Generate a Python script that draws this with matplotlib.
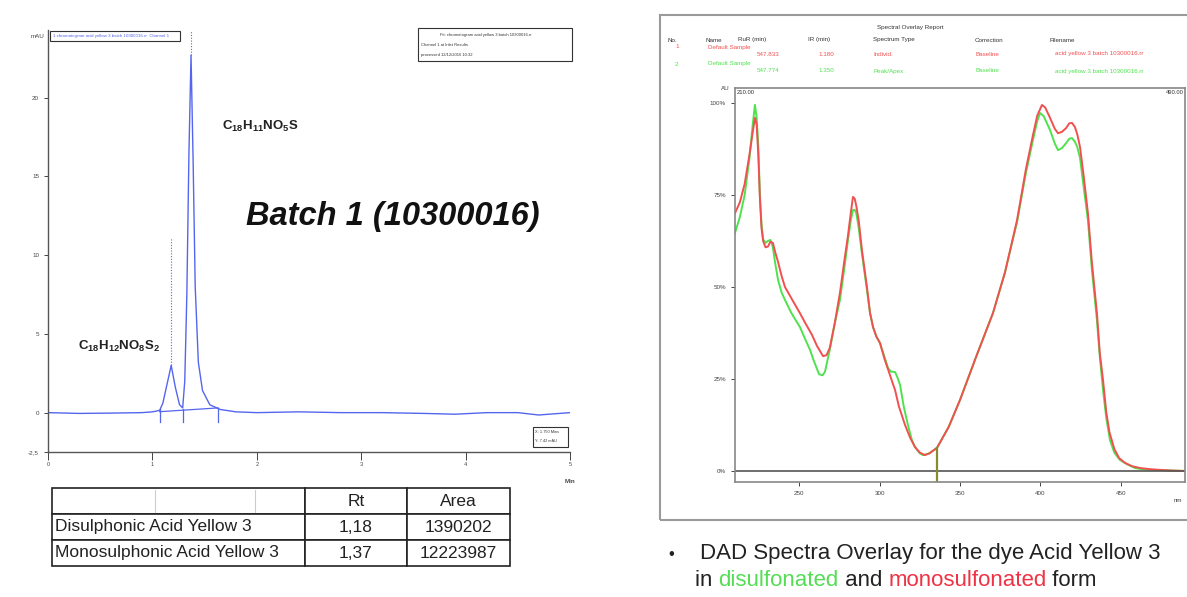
#!/usr/bin/env python3
# -*- coding: utf-8 -*-

import matplotlib
matplotlib.use('Agg')
import matplotlib.pyplot as plt
from matplotlib.patches import Rectangle

plt.rcParams['font.family'] = ['Liberation Sans', 'DejaVu Sans']
plt.rcParams['mathtext.fontset'] = 'custom'
plt.rcParams['mathtext.bf'] = 'Liberation Sans:bold'
plt.rcParams['mathtext.rm'] = 'Liberation Sans'

W, H = 1187, 597

#### chromatogram (time in min, signal in mAU)
chromTime = [0.0, 0.3, 0.6, 0.9, 1.0, 1.04, 1.07, 1.10, 1.14, 1.18, 1.22, 1.26, 1.29,
             1.31, 1.33, 1.35, 1.37, 1.39, 1.41, 1.44, 1.48, 1.55, 1.65, 1.8, 2.0,
             2.4, 2.8, 3.2, 3.6, 3.9, 4.2, 4.5, 4.7, 5.0]
chromSignal = [0.0, -0.05, -0.03, 0.0, 0.05, 0.1, 0.15, 0.6, 1.8, 3.0, 1.6, 0.5, 0.3,
               2.0, 7.5, 16.5, 22.7, 16.0, 8.0, 3.2, 1.4, 0.5, 0.2, 0.05, 0.0,
               0.05, 0.0, 0.0, -0.05, -0.1, 0.0, 0.0, -0.15, 0.0]
peakRt = [1.18, 1.37]
peakTop = [3.0, 22.7]
peakMark = [11.1, 24.3]
intStart, intEnd = (1.07, 0.06), (1.63, 0.3)
dropTimes = [1.07, 1.29, 1.63]
chromYTicks = [-2.5, 0, 5, 10, 15, 20]
chromYLabels = ['-2,5', '0', '5', '10', '15', '20']
chromXTicks = [0, 1, 2, 3, 4, 5]

#### DAD spectra (nm, % AU)
wlRed = [210, 213, 216, 219, 221, 222.4, 223.5, 224.5, 225.5, 226.5, 227.5, 229, 230.5,
         232, 233.6, 235, 236.8, 239, 241.1, 245, 250.4, 254, 257.9, 261, 264.8, 267,
         269, 272, 275.3, 278, 280.3, 282, 283.4, 284.5, 285.5, 287, 289, 292.1, 294,
         295.9, 298, 300.2, 303, 306.4, 308, 309.6, 312, 315.8, 319, 322, 325, 328.2,
         331, 335.7, 343, 350, 360, 370.5, 378, 385.5, 391, 395.4, 398, 401, 403, 406,
         409, 411, 413.5, 416, 418, 419.7, 421.5, 423, 424.7, 427, 429.6, 432, 435.2,
         437, 439, 441, 443, 446, 449, 452.7, 457, 462, 468, 474.4, 482, 490]
absRed = [70.1, 73, 78, 86, 92, 96, 94, 86, 74, 66, 62.5, 60.8, 61,
          62.3, 62, 59.5, 56.8, 53, 50, 47, 42.9, 40, 37, 34, 31.2, 31.5,
          33.5, 40, 48.4, 57, 64, 70, 74.5, 74, 72, 68, 60, 50, 43,
          39.1, 36.5, 34.8, 30.5, 26.1, 24, 22, 17.5, 12.5, 9, 6.5, 5, 4.3,
          4.8, 6.3, 12, 19.3, 31, 42.9, 54, 68.2, 82, 91.3, 96.5, 99.5, 98.8, 96,
          93, 91.8, 92.2, 93.2, 94.5, 94.6, 93.5, 91.5, 88, 80, 70.1, 57, 42.9,
          32, 24.7, 16, 10.5, 6, 3.5, 2.2, 1.3, 0.8, 0.5, 0.3, 0.1, 0]
wlGreen = [210, 213, 216, 219, 221, 222.4, 223.5, 224.5, 225.5, 226.5, 227.5, 229, 230.5,
           232, 233.5, 235, 236.8, 239, 241.1, 245, 250.4, 254, 256.7, 259, 262.3, 264.5,
           266, 269, 272, 275.3, 278, 280.3, 282, 283.4, 284.5, 285.5, 287, 289, 292.1,
           294, 295.9, 298, 300.2, 303, 305.2, 307, 309.6, 311, 312.7, 315, 317.6, 320,
           322, 325, 327, 331, 335.7, 343, 350, 360, 370.5, 378, 385.5, 391, 395.4, 398,
           399.8, 402, 406, 409, 411, 413.5, 416, 418, 419.7, 421.5, 423, 424.7, 427,
           429.6, 432, 435.2, 437, 439, 441, 443.3, 446, 449.5, 454, 458.9, 463, 468.2, 490]
absGreen = [64.7, 69, 75, 85, 94, 99.5, 96, 88, 75, 67, 63, 62, 62.5,
            62.8, 61, 56.5, 51.9, 48.5, 46.5, 43, 39.1, 35.5, 32.9, 30, 26.3, 26,
            27, 33, 40, 46.5, 55, 62.8, 68, 70.9, 71, 70, 66, 59, 49.2,
            43, 39.1, 36.5, 34.8, 31, 28, 27, 26.9, 25.5, 23.4, 17.5, 12.5, 8.5,
            6.5, 4.8, 4.3, 4.8, 6.3, 12, 19.3, 31, 42.9, 54, 67.7, 81, 90, 95,
            97.3, 96.5, 92.7, 89, 87.2, 87.8, 89.1, 90.3, 90.5, 89.5, 88, 85, 77,
            68.2, 55, 41, 31, 22, 14.5, 8.4, 5, 3, 1.8, 0.8, 0.5, 0.3, 0]
cursorNm = 335.7
specXTicks = [250, 300, 350, 400, 450]
specYTicks = [0, 25, 50, 75, 100]
specYLabels = ['0%', '25%', '50%', '75%', '100%']

#### table
tableCols = ['', 'Rt', 'Area']
tableRows = [['Disulphonic Acid Yellow 3', '1,18', '1390202'],
             ['Monosulphonic Acid Yellow 3', '1,37', '12223987']]

#### spectral report header
hdrNames = ['No.', 'Name', 'RuR (min)', 'IR (min)', 'Spectrum Type', 'Correction', 'Filename']
row1 = ['1', 'Default Sample', '547.833', '1.180', 'Individ.', 'Baseline', 'acid yellow 3 batch 10300016.rr']
row2 = ['2', 'Default Sample', '547.774', '1.350', 'Peak/Apex', 'Baseline', 'acid yellow 3 batch 10300016.rr']

RED = '#f25050'
GREEN = '#4ee24e'
BLUE = '#5566ee'


def fx(px):
	return px / W


def fy(py):
	return 1 - py / H


def box(x0, y0, x1, y1, lw=0.8):
	fig.patches.append(Rectangle((fx(x0), fy(y1)), (x1 - x0) / W, (y1 - y0) / H,
								 transform=fig.transFigure, fill=True, fc='white', ec='#333', lw=lw, zorder=5))


fig = plt.figure(figsize=(W / 100, H / 100), dpi=100)
fig.patch.set_facecolor('white')

##### Left: chromatogram
ax1 = fig.add_axes([fx(48), fy(452), 522 / W, 422 / H])
ax1.plot(chromTime, chromSignal, color=BLUE, lw=1.0)
ax1.plot([intStart[0], intEnd[0]], [intStart[1], intEnd[1]], color=BLUE, lw=0.9)
for t in dropTimes:
	ax1.plot([t, t], [0.2, -0.6], color=BLUE, lw=0.9)
for rt, top, mark in zip(peakRt, peakTop, peakMark):
	ax1.plot([rt, rt], [top, mark], color=BLUE, lw=0.8, ls=(0, (1, 1.5)))
ax1.set_xlim(0, 5)
ax1.set_ylim(-2.5, 24.3)
ax1.set_xticks(chromXTicks)
ax1.set_xticklabels([str(v) for v in chromXTicks])
ax1.set_yticks(chromYTicks)
ax1.set_yticklabels(chromYLabels)
ax1.tick_params(axis='y', labelsize=4.5, length=3, width=0.7, colors='#444')
ax1.tick_params(axis='x', labelsize=4, length=6, width=0.7, colors='#444', pad=1)
for s in ['top', 'right']:
	ax1.spines[s].set_visible(False)
for s in ['left', 'bottom']:
	ax1.spines[s].set_color('#555')
	ax1.spines[s].set_linewidth(1.0)
ax1.text(-0.006, 0.985, 'mAU', transform=ax1.transAxes, ha='right', va='center', fontsize=4.5, color='#444')
ax1.text(1.0, -0.07, 'Min', transform=ax1.transAxes, ha='center', va='center', fontsize=4.5,
		 color='#444', fontweight='bold')

# small boxes of the chromatography software
box(50, 31, 180, 41)
fig.text(fx(53), fy(36), '1 chromatogram acid yellow 3 batch 10300016.rr  Channel 1', fontsize=3.2,
		 ha='left', va='center', color=BLUE, zorder=6)
box(418, 28, 572, 61)
fig.text(fx(440), fy(35), 'Fit: chromatogram acid yellow 3 batch 10300016.rr', fontsize=3.0,
		 ha='left', va='center', color='#333', zorder=6)
fig.text(fx(421), fy(45), 'Channel 1 at Inlet Results', fontsize=3.0, ha='left', va='center', color='#333', zorder=6)
fig.text(fx(421), fy(55), 'processed 12/12/2016 10:32', fontsize=3.0, ha='left', va='center', color='#333', zorder=6)
box(533, 427, 568, 447)
fig.text(fx(535), fy(432), 'X: 1.750 Mins', fontsize=2.8, ha='left', va='center', color='#333', zorder=6)
fig.text(fx(535), fy(441), 'Y: 7.42 mAU', fontsize=2.8, ha='left', va='center', color='#333', zorder=6)

fig.text(fx(222), fy(126), r'$\mathbf{C_{18}H_{11}NO_5S}$', fontsize=9.5, ha='left', va='center', color='#222')
fig.text(fx(78), fy(346), r'$\mathbf{C_{18}H_{12}NO_8S_2}$', fontsize=9.5, ha='left', va='center', color='#222')
fig.text(fx(393), fy(216), 'Batch 1 (10300016)', fontsize=23.5, fontweight='bold', fontstyle='italic',
		 ha='center', va='center', color='#111')

##### Table
tab = fig.add_axes([fx(52), fy(566), 458 / W, 78 / H])
tab.axis('off')
table = tab.table(cellText=tableRows, colLabels=tableCols, colWidths=[253 / 458, 102 / 458, 103 / 458],
				  cellLoc='center', bbox=[0, 0, 1, 1])
table.auto_set_font_size(False)
for (r, c), cell in table.get_celld().items():
	cell.set_edgecolor('#222')
	cell.set_linewidth(1.2)
	cell.get_text().set_fontsize(12.5)
	cell.get_text().set_color('#222')
	if c == 0 and r > 0:
		cell.PAD = 0.01
		cell.get_text().set_horizontalalignment('left')
		cell._loc = 'left'
for xl in [103, 203]:
	tab.plot([xl / 458] * 2, [2 / 3 + 0.03, 0.97], color='#ccc', lw=0.8, transform=tab.transAxes)

##### Right: DAD spectra report
fig.patches.append(Rectangle((fx(660), fy(520)), 1 - fx(660) + 0.01, (520 - 15) / H,
							 transform=fig.transFigure, fill=False, ec='#9a9a9a', lw=1.5))
fig.text(fx(910), fy(27), 'Spectral Overlay Report', fontsize=4.5, ha='center', va='center', color='#333')
colX = [668, 705, 738, 808, 873, 975, 1050]
for x, s in zip(colX, hdrNames):
	fig.text(fx(x), fy(40), s, fontsize=4.5, ha='left', va='center', color='#333')
rowX = [675, 708, 757, 818, 873, 975, 1055]
for row, col, yy in [(row1, RED, 47), (row2, GREEN, 64)]:
	fig.text(fx(rowX[0]), fy(yy), row[0], fontsize=4.5, ha='left', va='center', color=col)
	fig.text(fx(rowX[1]), fy(yy), row[1], fontsize=4.5, ha='left', va='center', color=col)
	for x, s in zip(rowX[2:], row[2:]):
		fig.text(fx(x), fy(yy + 7), s, fontsize=4.5, ha='left', va='center', color=col)

ax2 = fig.add_axes([fx(735), fy(482), 450 / W, 394 / H])
ax2.plot(wlGreen, absGreen, color=GREEN, lw=1.4)
ax2.plot(wlRed, absRed, color=RED, lw=1.4)
ax2.axhline(0, color='#555', lw=1.2)
ax2.plot([cursorNm, cursorNm], [-3, 6.3], color='#8a8a30', lw=1.6)
ax2.set_xlim(210, 490)
ax2.set_ylim(-3, 104.1)
ax2.set_xticks(specXTicks)
ax2.set_xticklabels([str(v) for v in specXTicks])
ax2.set_yticks(specYTicks)
ax2.set_yticklabels(specYLabels)
ax2.tick_params(labelsize=4.5, length=3, width=0.7, colors='#444')
for s in ax2.spines.values():
	s.set_color('#888')
	s.set_linewidth(1.2)
ax2.text(-0.012, 1.0, 'AU', transform=ax2.transAxes, ha='right', va='center', fontsize=4.5, color='#444')
ax2.text(0.003, 0.995, '210.00', transform=ax2.transAxes, ha='left', va='top', fontsize=4.2, color='#333')
ax2.text(0.997, 0.995, '490.00', transform=ax2.transAxes, ha='right', va='top', fontsize=4.2, color='#333')
ax2.text(0.985, -0.04, 'nm', transform=ax2.transAxes, ha='center', va='top', fontsize=4.5, color='#444')

##### Caption
capSize = 16
fig.text(fx(668), fy(554), '\u2022', fontsize=12, ha='left', va='center', color='#222')
fig.text(fx(700), fy(554), 'DAD Spectra Overlay for the dye Acid Yellow 3', fontsize=capSize,
		 ha='left', va='center', color='#222')
t1 = fig.text(fx(695), fy(581), 'in ', fontsize=capSize, ha='left', va='center', color='#222')
fig.canvas.draw()
parts = [('disulfonated', '#55dd55'), (' and ', '#222'), ('monosulfonated', '#ee3344'), (' form', '#222')]
prev = t1
for s, c in parts:
	bb = prev.get_window_extent()
	prev = fig.text(bb.x1 / W, fy(581), s, fontsize=capSize, ha='left', va='center', color=c)
	fig.canvas.draw()

fig.savefig('out.png', dpi=100)
